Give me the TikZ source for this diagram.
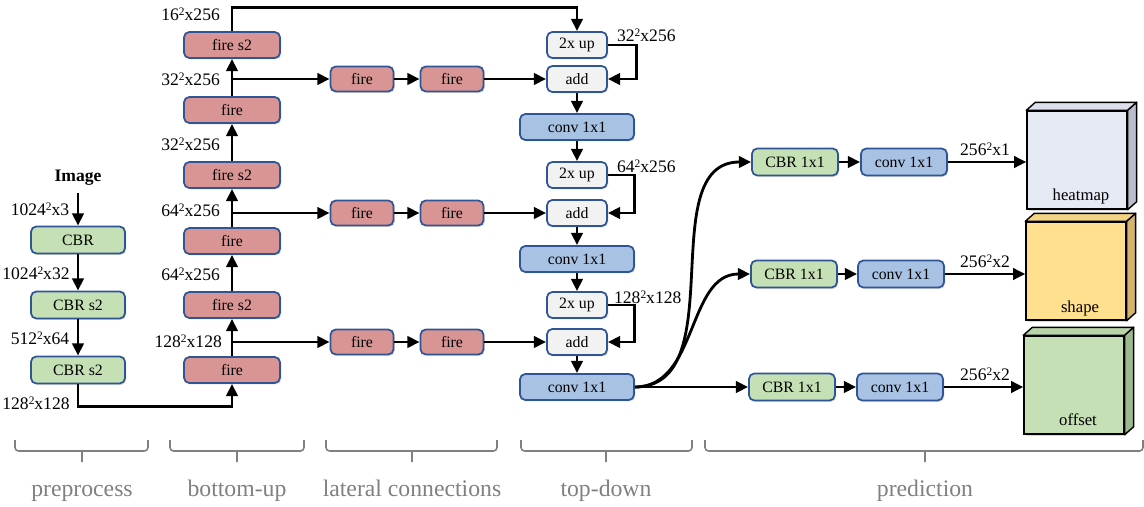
\documentclass[tikz,border=0pt]{standalone}
\usepackage{fontspec}
\setmainfont{Liberation Serif}
\usetikzlibrary{arrows.meta,shadows}
\definecolor{boxedge}{RGB}{47,85,151}
\definecolor{cbrfill}{RGB}{197,224,180}
\definecolor{firefill}{RGB}{217,149,148}
\definecolor{upfill}{RGB}{242,242,242}
\definecolor{convfill}{RGB}{167,194,227}
\definecolor{partgray}{RGB}{128,128,128}
\definecolor{heatfront}{RGB}{230,234,245}
\definecolor{heatside}{RGB}{185,189,203}
\definecolor{heattop}{RGB}{220,224,236}
\definecolor{shapefront}{RGB}{255,224,143}
\definecolor{shapeside}{RGB}{212,180,108}
\definecolor{shapetop}{RGB}{244,212,132}
\definecolor{offfront}{RGB}{197,224,180}
\definecolor{offside}{RGB}{156,186,142}
\definecolor{offtop}{RGB}{186,212,170}
\newcommand{\sqd}{\raisebox{.6ex}{\fontsize{6.5}{7}\selectfont 2}}
\begin{document}
\begin{tikzpicture}[x=0.02cm, y=-0.02cm, ultra thick, >={Triangle[length=7pt,width=6.5pt]},
  box/.style={rectangle, rounded corners=3pt, draw=boxedge, line width=1pt, inner sep=0pt, minimum height=.52cm, font=\fontsize{9}{10}\selectfont, drop shadow={shadow xshift=.8pt, shadow yshift=-.8pt, opacity=.25}},
  cbr node/.style={box, fill=cbrfill, minimum width=1.88cm, minimum height=.54cm},
  fire node/.style={box, fill=firefill, minimum width=1.92cm},
  lat node/.style={box, fill=firefill, minimum width=1.26cm, minimum height=.5cm},
  up node/.style={box, fill=upfill, minimum width=1.2cm},
  conv node/.style={box, fill=convfill, minimum width=2.28cm},
  head node/.style={box, minimum width=1.72cm, minimum height=.54cm},
  cube node/.style={rectangle, draw, line width=.8pt, inner sep=0pt, minimum width=2cm, minimum height=1.96cm, drop shadow={shadow xshift=1pt, shadow yshift=-1pt, opacity=.3}},
  cube face/.style={draw, line width=.8pt, line join=round},
  cube label/.style={font=\fontsize{9.5}{11}\selectfont, anchor=base},
  dim label/.style={font=\fontsize{10}{12}\selectfont, inner sep=1pt},
  part label/.style={font=\fontsize{13.5}{16}\selectfont, text=partgray, anchor=base},
  part brace/.style={draw=partgray, line width=.9pt, rounded corners=2pt}]
\useasboundingbox (0,0) rectangle (1144,507);
% preprocess
\node [font=\fontsize{10}{12}\selectfont\bfseries] (img) at (78,178) {Image};
\node [cbr node] (pre1) at (78,240) {CBR};
\node [cbr node] (pre2) at (78,305) {CBR s2};
\node [cbr node] (pre3) at (78,370) {CBR s2};
% bottom-up
\node [fire node] (bu1) at (232,370) {fire};
\node [fire node] (bu2) at (232,305) {fire s2};
\node [fire node] (bu3) at (232,241) {fire};
\node [fire node] (bu4) at (232,175) {fire s2};
\node [fire node] (bu5) at (232,110) {fire};
\node [fire node] (bu6) at (232,45) {fire s2};
% lateral connections
\node [lat node] (la1) at (362,79) {fire};
\node [lat node] (la2) at (452,79) {fire};
\node [lat node] (lb1) at (362,213) {fire};
\node [lat node] (lb2) at (452,213) {fire};
\node [lat node] (lc1) at (362,342) {fire};
\node [lat node] (lc2) at (452,342) {fire};
% top-down
\node [up node] (up1) at (577,45) {2x up};
\node [up node] (add1) at (577,79) {add};
\node [conv node] (td1) at (577,127) {conv 1x1};
\node [up node] (up2) at (577,175) {2x up};
\node [up node] (add2) at (577,213) {add};
\node [conv node] (td2) at (577,259) {conv 1x1};
\node [up node] (up3) at (577,305) {2x up};
\node [up node] (add3) at (577,342) {add};
\node [conv node] (td3) at (577,387) {conv 1x1};
% prediction
\node [head node, fill=cbrfill] (h1) at (795,162) {CBR 1x1};
\node [head node, fill=convfill] (o1) at (904,162) {conv 1x1};
\node [head node, fill=cbrfill] (h2) at (794,274) {CBR 1x1};
\node [head node, fill=convfill] (o2) at (901,274) {conv 1x1};
\node [head node, fill=cbrfill] (h3) at (792,387) {CBR 1x1};
\node [head node, fill=convfill] (o3) at (900,387) {conv 1x1};
% output cubes
\node [cube node, fill=heatfront] (hm) at (1077,160) {};
\draw [cube face, fill=heattop] (hm.north west) -- ++(9,-8) -- ([shift={(9,-8)}]hm.north east) -- (hm.north east) -- cycle;
\draw [cube face, fill=heatside] (hm.north east) -- ++(9,-8) -- ([shift={(9,-8)}]hm.south east) -- (hm.south east) -- cycle;
\node [cube label] (hmt) at (1081,200) {heatmap};
\node [cube node, fill=shapefront] (sh) at (1076,271) {};
\draw [cube face, fill=shapetop] (sh.north west) -- ++(9,-8) -- ([shift={(9,-8)}]sh.north east) -- (sh.north east) -- cycle;
\draw [cube face, fill=shapeside] (sh.north east) -- ++(9,-8) -- ([shift={(9,-8)}]sh.south east) -- (sh.south east) -- cycle;
\node [cube label] (sht) at (1080,312) {shape};
\node [cube node, fill=offfront] (of) at (1074,385) {};
\draw [cube face, fill=offtop] (of.north west) -- ++(9,-8) -- ([shift={(9,-8)}]of.north east) -- (of.north east) -- cycle;
\draw [cube face, fill=offside] (of.north east) -- ++(9,-8) -- ([shift={(9,-8)}]of.south east) -- (of.south east) -- cycle;
\node [cube label] (oft) at (1078,425) {offset};
% sizes
\node [dim label] (s1) at (40,209) {1024\sqd x3};
\node [dim label] (s2) at (36,273) {1024\sqd x32};
\node [dim label] (s3) at (40,338) {512\sqd x64};
\node [dim label] (s4) at (36,403) {128\sqd x128};
\node [dim label, anchor=east] (s5) at (223,14) {16\sqd x256};
\node [dim label, anchor=east] (s6) at (223,79) {32\sqd x256};
\node [dim label, anchor=east] (s7) at (223,144) {32\sqd x256};
\node [dim label, anchor=east] (s8) at (223,210) {64\sqd x256};
\node [dim label, anchor=east] (s9) at (223,274) {64\sqd x256};
\node [dim label, anchor=east] (s10) at (225,341) {128\sqd x128};
\node [dim label, anchor=west] (s11) at (614,35) {32\sqd x256};
\node [dim label, anchor=west] (s12) at (614,166) {64\sqd x256};
\node [dim label, anchor=west] (s13) at (611,297) {128\sqd x128};
\node [dim label] (s14) at (985,149) {256\sqd x1};
\node [dim label] (s15) at (985,261) {256\sqd x2};
\node [dim label] (s16) at (985,374) {256\sqd x2};
% connections
\draw [->] (img) edge (pre1) (pre1) edge (pre2) (pre2) edge (pre3);
\draw [->] (pre3.south) -- ++(0,22) -| (bu1.south);
\draw [->] (bu1) edge (bu2) (bu2) edge (bu3) (bu3) edge (bu4) (bu4) edge (bu5) (bu5) edge (bu6);
\draw [->] (bu6.north) -- ++(0,-24) -| (up1.north);
\draw [->] (bu5 |- la1) -- (la1);
\draw [->] (la1) edge (la2) (la2) edge (add1);
\draw [->] (bu3 |- lb1) -- (lb1);
\draw [->] (lb1) edge (lb2) (lb2) edge (add2);
\draw [->] (bu1 |- lc1) -- (lc1);
\draw [->] (lc1) edge (lc2) (lc2) edge (add3);
\draw [->] (up1.east) -- ++(29,0) |- (add1.east);
\draw [->] (add1) edge (td1) (td1) edge (up2);
\draw [->] (up2.east) -- ++(27,0) |- (add2.east);
\draw [->] (add2) edge (td2) (td2) edge (up3);
\draw [->] (up3.east) -- ++(27,0) |- (add3.east);
\draw [->] (add3) edge (td3);
\draw [->] (td3.east) to [out=0, in=180] (h1.west);
\draw [->] (td3.east) to [out=0, in=180] (h2.west);
\draw [->] (td3) -- (h3);
\draw [->] (h1) edge (o1) (h2) edge (o2) (h3) edge (o3);
\draw [->] (o1) -- (o1 -| hm.west);
\draw [->] (o2) -- (o2 -| sh.west);
\draw [->] (o3) -- (o3 -| of.west);
% parts
\draw [part brace] (15,440) |- (148,451) -- (148,440) (82,451) -- (82,462);
\draw [part brace] (170,440) |- (304,451) -- (304,440) (237,451) -- (237,462);
\draw [part brace] (326,440) |- (497,451) -- (497,440) (412,451) -- (412,462);
\draw [part brace] (521,440) |- (692,451) -- (692,440) (606,451) -- (606,462);
\draw [part brace] (705,440) |- (1143,451) -- (1143,440) (925,451) -- (925,462);
\node [part label] (l1) at (82,496) {preprocess};
\node [part label] (l2) at (237,496) {bottom-up};
\node [part label] (l3) at (412,496) {lateral connections};
\node [part label] (l4) at (606,496) {top-down};
\node [part label] (l5) at (925,496) {prediction};
\end{tikzpicture}
\end{document}
